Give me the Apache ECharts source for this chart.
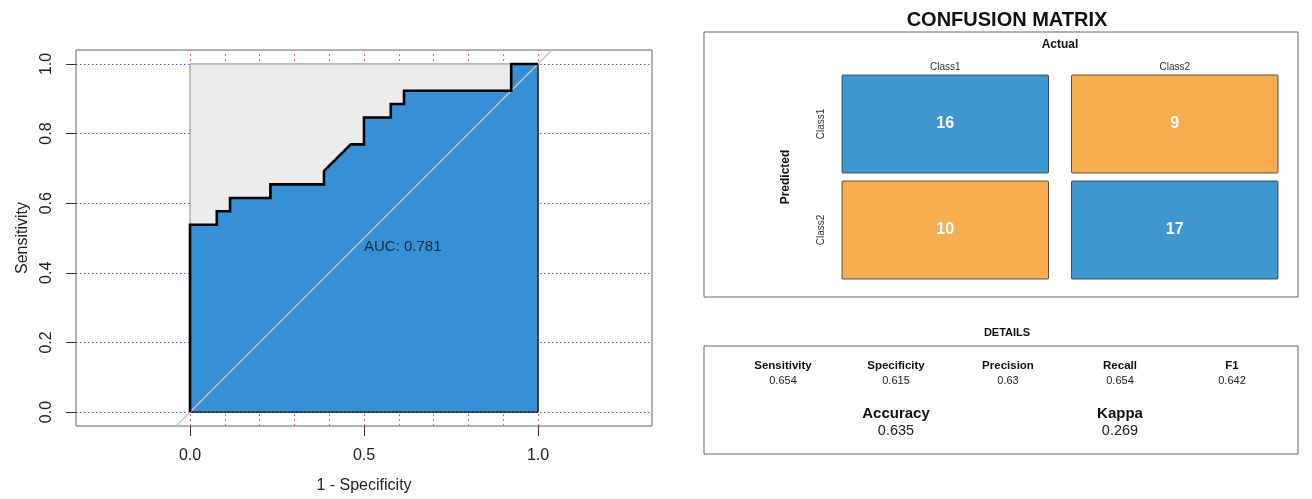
<!DOCTYPE html>
<html>
<head>
<meta charset="utf-8">
<script src="https://cdn.jsdelivr.net/npm/echarts@6/dist/echarts.min.js"></script>
<style>
  html, body { margin: 0; padding: 0; background: #fff; }
  #chart { width: 1312px; height: 499px; }
</style>
</head>
<body>
<div id="chart"></div>
<script>
// ROC curve: false positive rate (1 - specificity) and true positive rate
const rocFpr = [0, 0, 0.077, 0.077, 0.115, 0.115, 0.231, 0.231, 0.385, 0.385, 0.462, 0.5, 0.5, 0.577, 0.577, 0.615, 0.615, 0.923, 0.923, 1];
const rocTpr = [0, 0.538, 0.538, 0.577, 0.577, 0.615, 0.615, 0.654, 0.654, 0.692, 0.769, 0.769, 0.846, 0.846, 0.885, 0.885, 0.923, 0.923, 1, 1];
const aucValue = 0.781;

// axis ticks and grid positions
const xTicks = [0, 0.5, 1];
const yTicks = [0, 0.2, 0.4, 0.6, 0.8, 1];
const xGrid = [0, 0.1, 0.2, 0.3, 0.4, 0.5, 0.6, 0.7, 0.8, 0.9, 1];
const yGrid = [0, 0.2, 0.4, 0.6, 0.8, 1];

// confusion matrix: rows = predicted, columns = actual
const classes = ['Class1', 'Class2'];
const cmCounts = [[16, 9], [10, 17]];

// summary statistics
const metricNames = ['Sensitivity', 'Specificity', 'Precision', 'Recall', 'F1'];
const metricValues = ['0.654', '0.615', '0.63', '0.654', '0.642'];
const summaryNames = ['Accuracy', 'Kappa'];
const summaryValues = ['0.635', '0.269'];

const FONT = '"Liberation Sans", Arial, Helvetica, sans-serif';
const BLUE_ROC = '#3590d6';
const BLUE = '#3F97D0';
const ORANGE = '#F7AD50';

const X_MIN = -0.3276, X_MAX = 1.3276;
const Y_MIN = -0.04, Y_MAX = 1.04;

const rocPoints = rocFpr.map((x, i) => [x, rocTpr[i]]);
const unitBox = [[0, 0], [0, 1], [1, 1], [1, 0]];
const diagonal = [[Y_MIN, Y_MIN], [Y_MAX, Y_MAX]];

const cmData = [];
cmCounts.forEach((row, r) => row.forEach((v, c) => cmData.push([c, r, v, r === c ? 1 : 0])));

const chart = echarts.init(document.getElementById('chart'), null, { renderer: 'canvas' });

// layout of the right-hand panels
const panelL = 704, panelR = 1298;
const detailCols = [783, 896, 1008, 1120, 1232];
const summaryCols = [896, 1120];

const graphics = [
  { type: 'rect', shape: { x: panelL, y: 32, width: panelR - panelL, height: 265 },
    style: { fill: 'none', stroke: '#666', lineWidth: 1 }, silent: true },
  { type: 'text', x: 1007, y: 20, style: { text: 'CONFUSION MATRIX', font: 'bold 20px ' + FONT,
    fill: '#111', align: 'center', verticalAlign: 'middle' } },
  { type: 'text', x: 1060, y: 45, style: { text: 'Actual', font: 'bold 12px ' + FONT,
    fill: '#111', align: 'center', verticalAlign: 'middle' } },
  { type: 'text', x: 786, y: 177, rotation: Math.PI / 2, style: { text: 'Predicted', font: 'bold 12px ' + FONT,
    fill: '#111', align: 'center', verticalAlign: 'middle' } },
  { type: 'text', x: 1007, y: 333, style: { text: 'DETAILS', font: 'bold 11px ' + FONT,
    fill: '#111', align: 'center', verticalAlign: 'middle' } },
  { type: 'rect', shape: { x: panelL, y: 346, width: panelR - panelL, height: 108 },
    style: { fill: 'none', stroke: '#666', lineWidth: 1 }, silent: true }
];
metricNames.forEach((n, i) => {
  graphics.push({ type: 'text', x: detailCols[i], y: 366, style: { text: n, font: 'bold 11.5px ' + FONT,
    fill: '#111', align: 'center', verticalAlign: 'middle' } });
  graphics.push({ type: 'text', x: detailCols[i], y: 381, style: { text: metricValues[i], font: '11px ' + FONT,
    fill: '#222', align: 'center', verticalAlign: 'middle' } });
});
summaryNames.forEach((n, i) => {
  graphics.push({ type: 'text', x: summaryCols[i], y: 414, style: { text: n, font: 'bold 15px ' + FONT,
    fill: '#111', align: 'center', verticalAlign: 'middle' } });
  graphics.push({ type: 'text', x: summaryCols[i], y: 431, style: { text: summaryValues[i], font: '14.5px ' + FONT,
    fill: '#222', align: 'center', verticalAlign: 'middle' } });
});

const option = {
  animation: false,
  backgroundColor: '#fff',
  textStyle: { fontFamily: FONT },
  graphic: graphics,
  grid: [
    { left: 76, top: 50, width: 576, height: 376, show: true, borderColor: '#666', borderWidth: 1,
      backgroundColor: 'transparent', containLabel: false },
    { left: 830.5, top: 71, width: 459, height: 212, show: false, containLabel: false }
  ],
  xAxis: [
    {
      gridIndex: 0, type: 'value', min: X_MIN, max: X_MAX, position: 'bottom',
      name: '1 - Specificity', nameLocation: 'middle', nameGap: 52,
      nameTextStyle: { fontSize: 16, color: '#222', fontFamily: FONT },
      axisLine: { show: false, onZero: false },
      axisTick: { show: true, length: 10, customValues: xTicks, lineStyle: { color: '#333', width: 1 } },
      axisLabel: { customValues: xTicks, margin: 22, fontSize: 16, color: '#222', fontFamily: FONT,
        formatter: v => v.toFixed(1) },
      splitLine: { show: false }
    },
    {
      gridIndex: 1, type: 'category', data: classes, position: 'top',
      axisLine: { show: false }, axisTick: { show: false }, splitLine: { show: false },
      axisLabel: { margin: -1, fontSize: 10, color: '#333', fontFamily: FONT }
    }
  ],
  yAxis: [
    {
      gridIndex: 0, type: 'value', min: Y_MIN, max: Y_MAX, position: 'left',
      name: 'Sensitivity', nameLocation: 'middle', nameGap: 45,
      nameTextStyle: { fontSize: 16, color: '#222', fontFamily: FONT },
      axisLine: { show: false, onZero: false },
      axisTick: { show: true, length: 10, customValues: yTicks, lineStyle: { color: '#333', width: 1 } },
      axisLabel: { customValues: yTicks, margin: 21, rotate: 90, fontSize: 16, color: '#222', fontFamily: FONT,
        formatter: v => v.toFixed(1) },
      splitLine: { show: false }
    },
    {
      gridIndex: 1, type: 'category', data: classes, inverse: true,
      axisLine: { show: false }, axisTick: { show: false }, splitLine: { show: false },
      axisLabel: { margin: 4, rotate: 90, fontSize: 10, color: '#333', fontFamily: FONT }
    }
  ],
  series: [
    {
      name: 'gridLines', type: 'line', xAxisIndex: 0, yAxisIndex: 0, z: 1,
      data: [], silent: true,
      markLine: {
        z: 1, silent: true, symbol: ['none', 'none'], label: { show: false },
        data: xGrid.map(v => ({ xAxis: v, lineStyle: { color: '#e07070', type: [2, 3], width: 1 } }))
          .concat(yGrid.map(v => ({ yAxis: v, lineStyle: { color: '#5a5ac8', type: [1.5, 2.5], width: 1 } })))
      }
    },
    {
      name: 'maxAuc', type: 'line', xAxisIndex: 0, yAxisIndex: 0, z: 10,
      data: unitBox, showSymbol: false, symbol: 'none', silent: true,
      lineStyle: { color: '#8a8a8a', width: 1 },
      areaStyle: { color: '#ececec', opacity: 1 }
    },
    {
      name: 'aucArea', type: 'line', xAxisIndex: 0, yAxisIndex: 0, z: 11,
      data: rocPoints, showSymbol: false, symbol: 'none', silent: true,
      lineStyle: { width: 0 },
      areaStyle: { color: BLUE_ROC, opacity: 1 }
    },
    {
      name: 'aucBorder', type: 'line', xAxisIndex: 0, yAxisIndex: 0, z: 12,
      data: [[1, 1], [1, 0], [0, 0]], showSymbol: false, symbol: 'none', silent: true,
      lineStyle: { color: '#111', width: 1.3 }
    },
    {
      name: 'chance', type: 'line', xAxisIndex: 0, yAxisIndex: 0, z: 13,
      data: diagonal, showSymbol: false, symbol: 'none', silent: true,
      lineStyle: { color: '#c4c4c4', width: 1.5 }
    },
    {
      name: 'roc', type: 'line', xAxisIndex: 0, yAxisIndex: 0, z: 14,
      data: rocPoints, showSymbol: false, symbol: 'none', silent: true,
      lineStyle: { color: '#000', width: 2.6, join: 'miter' }
    },
    {
      name: 'aucText', type: 'scatter', xAxisIndex: 0, yAxisIndex: 0, z: 15,
      data: [[0.5, 0.5]], symbolSize: 0, silent: true,
      label: { show: true, position: 'right', distance: 0, offset: [0, 9],
        formatter: () => 'AUC: ' + aucValue.toFixed(3),
        fontSize: 15, color: '#111', fontFamily: FONT }
    },
    {
      name: 'confusion', type: 'custom', xAxisIndex: 1, yAxisIndex: 1, coordinateSystem: 'cartesian2d',
      data: cmData, silent: true,
      renderItem: (params, api) => {
        const c = api.coord([api.value(0), api.value(1)]);
        const s = api.size([1, 1]);
        const w = s[0] - 23, h = s[1] - 8;
        const diag = api.value(3) === 1;
        return {
          type: 'group',
          children: [
            { type: 'rect', shape: { x: c[0] - w / 2, y: c[1] - h / 2, width: w, height: h, r: 1 },
              style: { fill: diag ? BLUE : ORANGE, stroke: 'rgba(40,40,40,0.75)', lineWidth: 1 } },
            { type: 'text', style: { text: String(api.value(2)), x: c[0], y: c[1],
              align: 'center', verticalAlign: 'middle', fill: '#fff', font: 'bold 16px ' + FONT } }
          ]
        };
      }
    }
  ]
};

chart.setOption(option);
</script>
</body>
</html>
